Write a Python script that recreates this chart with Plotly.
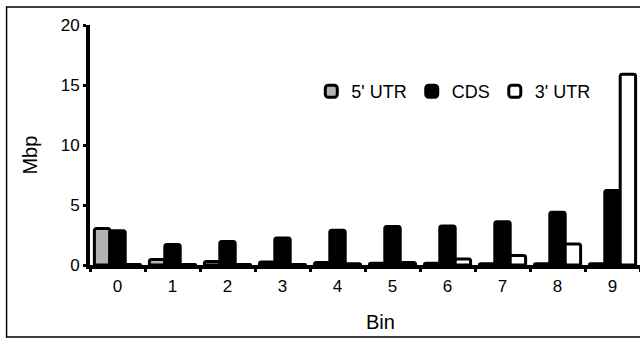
import plotly.graph_objects as go

bins = ["0", "1", "2", "3", "4", "5", "6", "7", "8", "9"]
utr5 = [3.05, 0.45, 0.3, 0.25, 0.2, 0.15, 0.15, 0.1, 0.1, 0.1]
cds = [2.85, 1.7, 1.95, 2.25, 2.9, 3.2, 3.25, 3.6, 4.4, 6.2]
utr3 = [0.05, 0.05, 0.05, 0.05, 0.1, 0.2, 0.5, 0.8, 1.75, 15.9]
y_ticks = [0, 5, 10, 15, 20]

W, H = 640, 339
L, R, T, B = 89.5, 0, 25, 74
pw = W - L - R
ph = H - T - B

def px_x(p):
    return (p - L) / pw

def px_y(p):
    return (H - B - p) / ph

font = "Liberation Sans, Arial, Helvetica, sans-serif"

fig = go.Figure()
fig.add_trace(go.Bar(name="5' UTR", x=bins, y=utr5,
                     marker=dict(color="#b3b3b3", line=dict(color="black", width=3), cornerradius=2)))
fig.add_trace(go.Bar(name="CDS", x=bins, y=cds,
                     marker=dict(color="black", line=dict(color="black", width=3), cornerradius=2)))
fig.add_trace(go.Bar(name="3' UTR", x=bins, y=utr3,
                     marker=dict(color="white", line=dict(color="black", width=3), cornerradius=2)))

fig.update_layout(
    width=W, height=H,
    margin=dict(l=L, r=R, t=T, b=B, pad=0),
    paper_bgcolor="white", plot_bgcolor="white",
    barmode="group", bargap=0.16, bargroupgap=0,
    font=dict(family=font, size=17, color="black"),
    showlegend=True,
    legend=dict(orientation="h", x=px_x(311), y=px_y(73), xanchor="left", yanchor="top",
                bgcolor="rgba(0,0,0,0)", font=dict(size=18), itemwidth=30,
                traceorder="normal"),
    xaxis=dict(type="category", range=[-0.5, 9.5], showline=True, linewidth=4, linecolor="black",
               ticks="outside", tickson="boundaries", ticklen=3, tickwidth=3, tickcolor="black",
               showgrid=False, zeroline=False, tickfont=dict(size=17), ticklabelstandoff=3),
    yaxis=dict(range=[0, 20], tickvals=y_ticks, showline=True, linewidth=4, linecolor="black",
               ticks="outside", ticklen=3, tickwidth=3, tickcolor="black",
               showgrid=False, zeroline=False, tickfont=dict(size=17)),
    shapes=[dict(type="rect", xref="paper", yref="paper",
                 x0=px_x(6), x1=px_x(700), y0=px_y(337), y1=px_y(7),
                 line=dict(color="black", width=1.5), fillcolor="rgba(0,0,0,0)", layer="below")],
    annotations=[
        dict(text="Bin", xref="paper", yref="paper", x=px_x(380), y=px_y(322),
             showarrow=False, font=dict(size=20), xanchor="center", yanchor="middle"),
        dict(text="Mbp", xref="paper", yref="paper", x=px_x(29), y=px_y(155),
             showarrow=False, font=dict(size=20), textangle=-90, xanchor="center", yanchor="middle"),
    ],
)

fig.write_html("out.html", config={"displayModeBar": False},
               post_script="document.body.style.margin='0px';document.body.style.overflow='hidden';")
